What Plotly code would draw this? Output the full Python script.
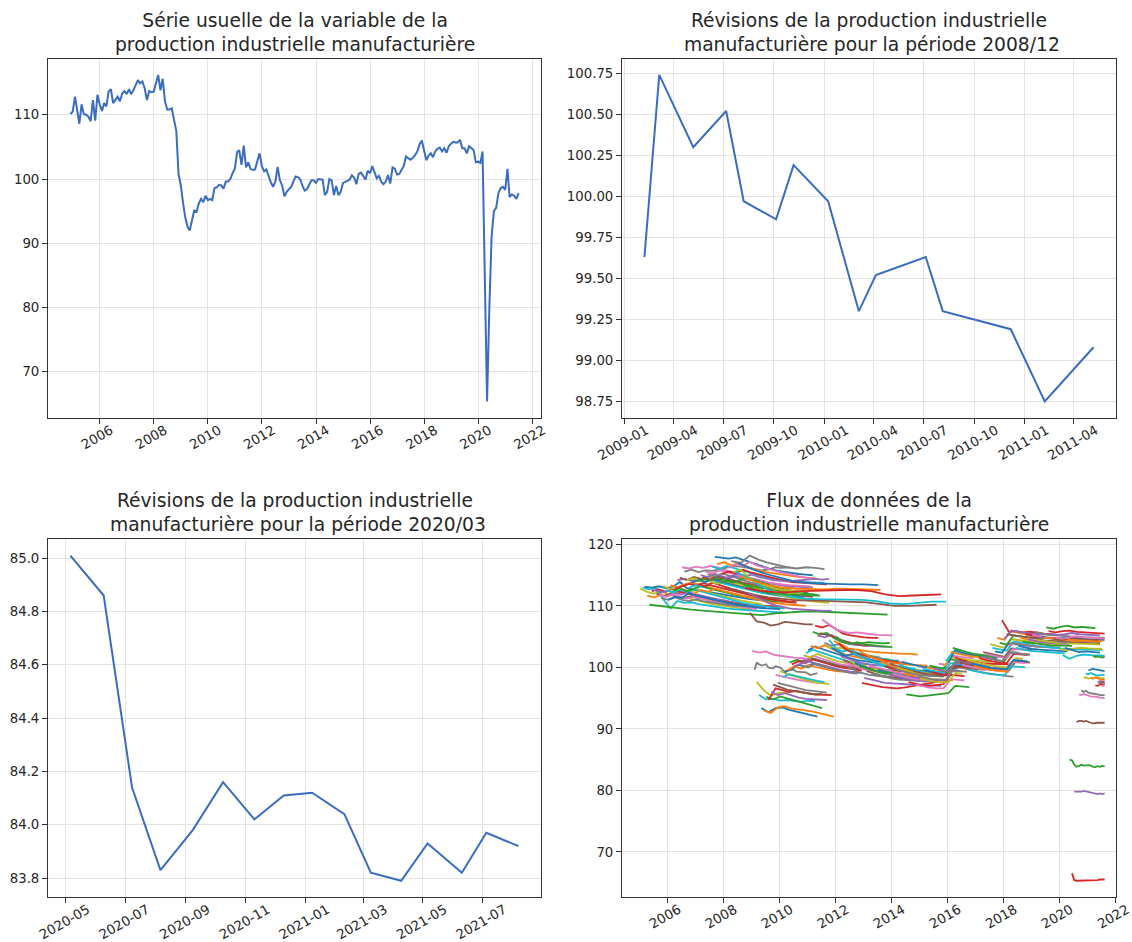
import pandas as pd
import plotly.graph_objects as go

# ---------------------------------------------------------------------------
# Données
# ---------------------------------------------------------------------------

# Série usuelle : indice mensuel (dates de fin de mois), de 2004-11 à 2021-06
SERIE_PREMIER_MOIS = "2004-11-30"
SERIE_VALEURS = [
    110.1, 110.5, 112.8, 110.5, 108.6, 111.6, 110.1, 110.0, 109.7, 109.0, 112.3, 109.1, 113.1,
    111.6, 110.6, 111.8, 111.3, 113.6, 114.0, 111.8, 112.3, 112.8, 112.1, 113.3, 113.7,
    113.2, 114.0, 113.2, 113.8, 114.6, 115.4, 114.9, 115.2, 114.1, 112.3, 113.7, 113.5,
    113.6, 114.9, 116.2, 113.8, 115.6, 112.1, 110.8, 110.8, 111.0, 109.2, 107.5, 100.8,
    99.0, 96.2, 94.1, 92.6, 92.0, 93.6, 95.1, 94.9, 96.2, 96.9, 96.4, 97.4,
    96.7, 96.9, 96.7, 98.6, 98.7, 99.1, 99.0, 98.5, 99.6, 99.6, 100.0, 100.9,
    101.6, 104.2, 104.5, 102.2, 105.2, 101.8, 102.6, 101.6, 101.4, 101.5, 103.0, 104.0,
    102.0, 101.2, 101.5, 100.3, 99.5, 98.8, 99.6, 101.9, 99.8, 99.0, 97.3, 98.0,
    98.5, 98.8, 99.6, 100.4, 100.3, 100.0, 99.0, 98.2, 98.4, 99.1, 99.8, 99.8,
    99.4, 100.0, 100.0, 99.9, 97.5, 98.0, 100.0, 99.8, 97.5, 98.9, 97.5, 98.0,
    99.4, 99.5, 99.7, 99.9, 100.6, 100.2, 99.2, 100.8, 101.0, 100.5, 99.9, 101.3,
    100.9, 102.0, 101.0, 100.1, 100.5, 99.6, 99.2, 99.6, 100.6, 99.3, 101.8, 101.6,
    100.7, 100.8, 101.4, 102.0, 103.5, 103.2, 103.0, 103.3, 103.7, 104.3, 105.4, 106.0,
    104.2, 102.9, 103.6, 104.0, 103.4, 104.3, 104.7, 104.9, 104.3, 104.8, 104.1, 105.1,
    105.5, 105.8, 105.7, 105.7, 106.1, 104.8, 104.8, 104.0, 105.1, 104.8, 104.5, 102.6,
    102.7, 102.5, 104.3, 84.5, 65.4, 80.0, 91.0, 95.0, 95.5, 97.8, 98.6, 98.8,
    98.3, 101.6, 97.2, 97.6, 97.4, 96.9, 97.8,
]

# Révisions successives de la période 2008/12
REV_2008_12_DATES = [
    "2009-02-07", "2009-03-06", "2009-05-07", "2009-07-06", "2009-08-07",
    "2009-10-05", "2009-11-06", "2010-01-08", "2010-03-05", "2010-04-05",
    "2010-07-05", "2010-08-05", "2010-12-07", "2011-02-07", "2011-05-07",
]
REV_2008_12_VALEURS = [
    99.63, 100.74, 100.30, 100.52, 99.97, 99.86, 100.19, 99.97,
    99.30, 99.52, 99.63, 99.30, 99.19, 98.75, 99.08,
]

# Révisions successives de la période 2020/03
REV_2020_03_DATES = [
    "2020-05-06", "2020-06-09", "2020-07-08", "2020-08-06", "2020-09-08",
    "2020-10-09", "2020-11-10", "2020-12-10", "2021-01-08", "2021-02-10",
    "2021-03-09", "2021-04-09", "2021-05-06", "2021-06-10", "2021-07-05",
    "2021-08-07",
]
REV_2020_03_VALEURS = [
    85.01, 84.86, 84.14, 83.83, 83.98, 84.16, 84.02, 84.11,
    84.12, 84.04, 83.82, 83.79, 83.93, 83.82, 83.97, 83.92,
]

# Flux de données : pour chaque période de référence, valeurs publiées
# dans les millésimes successifs (premier millésime deux mois après la période)
FLUX_VALEURS = {
    "2004-11": [112.8, 112.3, 112.0, 112.4, 111.9, 111.6, 111.5, 111.2, 110.9, 110.7, 110.4, 110.2, 110.0, 109.9, 109.7, 109.6, 109.5],
    "2004-12": [113.0, 112.7, 112.9, 111.0, 109.6, 110.8, 110.5, 110.6, 110.3, 110.1, 109.9, 109.7, 109.6, 109.5, 109.4, 109.3, 109.2, 109.1, 109.1, 109.0, 109.0],
    "2005-01": [113.1, 113.0, 113.2, 112.9, 113.1, 113.9, 112.9, 112.7, 112.4, 112.3, 112.0, 111.8, 111.6, 111.4, 111.3, 111.1, 111.0, 110.9, 110.8, 110.8, 110.7, 110.6],
    "2005-02": [111.7, 111.4, 111.8, 111.6, 112.0, 112.5, 112.2, 111.8, 111.5, 111.2, 110.9, 110.6, 110.4, 110.2, 110.0, 109.9, 109.8, 109.7],
    "2005-03": [110.2, 109.9, 109.6, 109.4, 109.2, 109.0, 108.8, 108.6, 108.5, 108.8, 109.0, 109.1, 109.1, 109.0, 109.0, 108.9, 108.8, 108.6],
    "2005-04": [112.4, 112.7, 112.3, 112.8, 112.3, 112.0, 111.8, 111.5, 111.3, 111.1, 110.8, 110.6, 110.4, 110.3, 110.2, 110.1, 110.0, 109.9, 109.9],
    "2005-05": [112.6, 112.2, 112.5, 112.1, 111.9, 112.2, 111.9, 111.6, 111.4, 111.1, 110.9, 110.6, 110.4, 110.2, 110.0, 109.9, 109.8],
    "2005-06": [112.0, 111.6, 112.0, 111.5, 111.3, 111.6, 111.3, 111.1, 110.9, 110.7, 110.5, 110.4, 110.3, 110.2],
    "2005-07": [111.8, 111.5, 111.9, 111.5, 111.2, 111.5, 111.2, 110.9, 110.7, 110.4, 110.2, 110.0, 109.8, 109.6, 109.5],
    "2005-08": [111.3, 111.0, 111.4, 111.0, 110.8, 111.1, 110.8, 110.6, 110.4, 110.3, 110.1, 110.0, 109.9, 109.8, 109.8],
    "2005-09": [113.2, 112.8, 113.1, 112.6, 112.4, 112.7, 112.3, 112.0, 111.7, 111.4, 111.1, 110.9, 110.7, 110.5, 110.3],
    "2005-10": [112.6, 112.2, 112.6, 112.3, 112.7, 112.4, 112.0, 111.7, 111.4, 111.1, 110.8, 110.5, 110.3, 110.1, 109.9, 109.8, 109.7, 109.6],
    "2005-11": [111.0, 111.5, 111.3, 112.1, 111.7, 111.5, 111.2, 110.9, 110.6, 110.4, 110.2, 110.0, 109.8, 109.7, 109.6, 109.5, 109.5],
    "2005-12": [113.4, 113.0, 113.5, 113.8, 113.5, 113.2, 112.9, 112.6, 112.3, 112.0, 111.7, 111.5, 111.3, 111.1, 110.9, 110.8, 110.7, 110.6, 110.5],
    "2006-01": [112.5, 112.9, 112.4, 112.8, 113.2, 112.9, 112.6, 112.3, 112.0, 111.8, 111.5, 111.3, 111.1, 110.9, 110.8, 110.7],
    "2006-02": [112.8, 113.2, 113.6, 113.3, 113.7, 113.4, 113.1, 112.8, 112.5, 112.2, 111.9, 111.6, 111.4, 111.2, 111.0, 110.8, 110.7, 110.6],
    "2006-03": [114.2, 114.4, 114.1, 114.3, 114.5, 114.2, 114.0, 113.7, 113.4, 113.1, 112.8, 112.5, 112.2, 112.0, 111.8, 111.6, 111.4, 111.3, 111.2, 111.1],
    "2006-04": [114.6, 114.2, 114.7, 114.4, 114.8, 114.5, 114.2, 113.9, 113.6, 113.3, 113.0, 112.7, 112.5, 112.3, 112.1, 111.9, 111.8, 111.7, 111.6, 111.5],
    "2006-05": [116.3, 116.1, 116.4, 116.2, 116.5, 116.3, 115.9, 115.5, 115.1, 114.8, 114.5, 114.2, 113.9, 113.6, 113.4, 113.2, 113.0],
    "2006-06": [115.6, 115.9, 115.5, 115.8, 115.7, 116.0, 116.2, 116.5, 116.4, 116.2, 116.1, 115.8, 115.9, 116.3, 116.2, 116.3],
    "2006-07": [114.2, 114.5, 114.1, 114.6, 114.9, 114.6, 114.3, 114.0, 113.7, 113.4, 113.1, 112.8, 112.6, 112.4, 112.2, 112.0, 111.9, 111.8],
    "2006-08": [113.0, 113.4, 113.1, 113.6, 113.9, 113.6, 113.3, 113.0, 112.8, 112.5, 112.2, 112.0, 111.8, 111.6, 111.4, 111.3, 111.2, 111.1, 111.0],
    "2006-09": [113.8, 114.2, 113.9, 114.4, 114.1, 113.8, 113.5, 113.2, 112.9, 112.6, 112.3, 112.1, 111.9, 111.7, 111.6, 111.5, 111.4],
    "2006-10": [112.0, 112.6, 112.3, 112.8, 112.5, 112.2, 111.9, 111.6, 111.3, 111.0, 110.8, 110.6, 110.4, 110.3, 110.2, 110.1, 110.0],
    "2006-11": [114.0, 114.4, 114.1, 114.6, 114.3, 114.0, 113.7, 113.4, 113.2, 113.0, 112.8, 112.6, 112.5, 112.4, 112.3, 112.3],
    "2006-12": [113.5, 113.2, 113.8, 113.4, 113.1, 112.7, 112.3, 112.0, 111.7, 111.4, 111.2, 111.0, 110.8, 110.7, 110.6],
    "2007-01": [115.0, 114.7, 115.2, 114.8, 114.5, 114.8, 114.5, 114.2, 114.0, 113.8, 113.6, 113.4, 113.3, 113.2, 113.1, 113.0, 113.0],
    "2007-02": [114.6, 114.3, 114.8, 114.5, 114.3, 114.0, 113.7, 113.5, 113.3, 113.1, 112.9, 112.7, 112.5, 112.3, 112.2, 112.1],
    "2007-03": [115.6, 115.3, 115.8, 115.5, 115.1, 114.8, 114.5, 114.2, 114.0, 113.8, 113.6, 113.5, 113.4, 113.3, 113.2, 113.2],
    "2007-04": [115.2, 114.8, 115.3, 115.0, 114.6, 114.2, 113.8, 113.5, 113.2, 112.9, 112.7, 112.5, 112.4, 112.3],
    "2007-05": [114.0, 113.6, 114.1, 113.8, 113.5, 113.2, 112.9, 112.6, 112.3, 112.0, 111.7, 111.4, 111.2, 111.0, 110.8, 110.7, 110.6, 110.5],
    "2007-06": [116.4, 116.0, 116.5, 116.2, 115.8, 115.5, 115.1, 114.8, 114.6, 114.4, 114.2, 114.1, 114.0, 113.9, 113.9, 113.8, 113.8],
    "2007-07": [118.0, 117.8, 117.7, 117.9, 117.5, 117.2, 116.8, 116.3, 116.0, 115.7, 115.5, 115.3, 115.2, 115.1, 115.0],
    "2007-08": [116.8, 117.1, 116.6, 116.9, 116.5, 116.1, 115.8, 115.5, 115.3, 115.1, 114.9, 114.8, 114.7, 114.6, 114.5],
    "2007-09": [113.8, 114.1, 113.8, 114.3, 114.6, 114.2, 113.8, 113.4, 113.1, 112.8, 112.5, 112.3, 112.1, 111.9, 111.8],
    "2007-10": [115.2, 115.6, 115.3, 115.9, 115.5, 115.2, 114.9, 114.6, 114.3, 114.1, 113.9, 113.8, 113.7, 113.6, 113.5, 113.5],
    "2007-11": [114.5, 114.8, 115.2, 114.9, 115.1, 114.7, 114.4, 114.2, 114.1, 114.0, 114.1, 114.2, 114.3, 114.4, 114.3, 114.4],
    "2007-12": [113.0, 112.4, 111.8, 111.4, 111.1, 110.9, 110.9, 110.8, 110.8, 110.7, 110.6, 110.3, 110.0, 110.0, 110.1, 110.2],
    "2008-01": [116.2, 116.8, 116.5, 117.2, 116.6, 116.2, 115.9, 115.6, 115.3, 115.0, 114.8, 114.6, 114.5],
    "2008-02": [117.3, 117.0, 118.2, 117.5, 117.0, 116.6, 116.3, 116.1, 116.3, 116.2, 116.0],
    "2008-03": [115.5, 115.9, 114.8, 114.0, 113.5, 113.1, 112.8, 112.6, 112.5, 112.4, 112.3],
    "2008-04": [115.6, 114.4, 113.0, 112.0, 111.5, 111.2, 111.1, 111.1, 111.0, 111.0, 110.8, 110.4, 110.3, 110.5, 110.7, 110.7],
    "2008-05": [117.0, 116.0, 115.2, 114.6, 114.0, 113.7, 113.6, 113.6, 113.5, 113.5, 113.4],
    "2008-06": [114.8, 114.0, 113.4, 113.0, 112.8, 112.7, 112.7, 112.8, 112.8, 112.7, 112.6],
    "2008-07": [113.5, 113.0, 112.6, 112.3, 112.1, 112.0, 111.9, 111.9, 111.8, 111.8, 111.7, 111.7],
    "2008-08": [112.9, 112.5, 112.3, 112.2, 112.4, 112.5, 112.5, 112.6, 112.6, 112.4, 111.9, 111.6, 111.7, 111.8, 111.9],
    "2008-09": [112.2, 111.6, 111.0, 110.5, 110.1, 109.8, 109.6, 109.5, 109.4, 109.3, 109.3, 109.2, 109.2],
    "2008-10": [108.9, 107.5, 107.3, 106.8, 107.0, 107.4, 107.3, 107.1, 107.0, 107.0],
    "2008-11": [102.7, 102.4, 102.6, 102.1, 101.9, 101.7, 101.6, 101.5, 101.4],
    "2008-12": REV_2008_12_VALEURS,
    "2009-01": [97.6, 96.3, 95.4, 95.8, 95.9, 96.2, 96.0, 95.8, 95.7, 95.6],
    "2009-02": [95.5, 94.8, 94.9, 94.6, 94.7, 94.5, 94.4, 94.6, 94.5],
    "2009-03": [93.4, 92.7, 93.4, 93.5, 93.1, 92.8, 92.5, 92.2, 92.0],
    "2009-04": [93.0, 92.6, 93.5, 93.7, 93.3, 93.2, 93.0, 92.8, 92.5, 92.3, 92.0],
    "2009-05": [95.2, 94.8, 95.3, 95.0, 94.6, 94.3, 94.0, 93.7, 93.4],
    "2009-06": [94.7, 96.6, 96.3, 96.0, 96.2, 95.9, 95.7, 95.6, 95.5, 95.5],
    "2009-07": [96.0, 95.5, 95.8, 95.4, 95.1, 94.9, 94.8, 94.7, 94.7],
    "2009-08": [97.2, 96.8, 96.4, 96.2, 96.0, 95.8, 95.6, 95.7],
    "2009-09": [98.8, 98.5, 98.3, 98.0, 97.8, 97.6, 97.5, 97.4],
    "2009-10": [97.5, 97.2, 96.8, 96.5, 96.3, 96.2, 96.0, 95.9],
    "2009-11": [99.4, 98.9, 98.6, 98.2, 97.9, 97.6, 97.4, 97.3],
    "2009-12": [98.4, 98.9, 98.6, 98.3, 98.0, 97.8, 97.6],
    "2010-01": [99.2, 99.8, 100.4, 100.1, 100.6, 100.3, 100.0, 99.7, 99.5, 99.3, 99.2, 99.1],
    "2010-02": [99.5, 100.2, 99.8, 100.4, 100.1, 99.8, 99.6, 99.4, 99.3, 99.2, 99.1],
    "2010-03": [100.8, 101.2, 100.9, 101.5, 101.2, 100.9, 100.6, 100.4, 100.2, 100.1],
    "2010-04": [100.5, 101.0, 100.7, 101.3, 101.0, 100.6, 100.3, 100.0, 99.8, 99.6, 99.5],
    "2010-05": [100.2, 100.6, 101.0, 100.7, 100.4, 100.0, 99.7, 99.5, 99.3, 99.2],
    "2010-06": [101.2, 101.0, 101.6, 101.3, 100.9, 100.5, 100.3, 100.1, 99.9, 99.8],
    "2010-07": [101.6, 101.3, 101.9, 101.5, 101.1, 100.8, 100.5, 100.3, 100.1, 100.0],
    "2010-08": [100.3, 100.0, 100.6, 100.2, 99.9, 99.6, 99.3, 99.1, 99.0],
    "2010-09": [102.0, 101.6, 102.2, 101.7, 101.3, 101.0, 100.7, 100.5, 100.4, 100.3],
    "2010-10": [102.3, 102.9, 102.5, 102.1, 101.7, 101.3, 101.0, 100.8, 100.6, 100.5, 100.4],
    "2010-11": [102.8, 103.4, 103.0, 102.6, 102.2, 101.8, 101.5, 101.2, 101.0, 100.8, 100.7],
    "2010-12": [103.5, 103.1, 103.6, 103.0, 102.5, 102.1, 101.8, 101.5, 101.3, 101.2, 101.1, 101.0],
    "2011-01": [105.8, 105.4, 105.6, 104.8, 104.2, 103.9, 103.8, 104.0, 104.1, 104.0, 103.9, 104.0],
    "2011-02": [106.8, 106.5, 106.9, 106.2, 105.5, 105.2, 105.0, 104.9, 104.8, 104.8],
    "2011-03": [105.2, 104.9, 105.3, 104.6, 104.0, 103.7, 103.6, 103.5, 103.5, 103.4, 103.4],
    "2011-04": [105.6, 105.3, 105.0, 104.5, 104.1, 103.8, 103.6, 103.5],
    "2011-05": [107.8, 107.0, 106.2, 105.8, 105.6, 105.7, 105.5, 105.4, 105.3, 105.3, 105.2],
    "2011-06": [104.0, 103.5, 103.8, 103.1, 102.6, 102.2, 102.0, 101.8, 101.6],
    "2011-07": [103.5, 103.0, 103.2, 102.7, 102.3, 102.0, 101.7, 101.5, 101.4, 101.3],
    "2011-08": [104.5, 103.0, 102.6, 102.9, 102.4, 102.0, 101.7, 101.5, 101.3, 101.2, 101.1],
    "2011-09": [103.2, 102.5, 101.9, 102.2, 101.8, 101.4, 101.1, 100.9, 100.8, 100.7, 100.6, 100.5],
    "2011-10": [104.3, 103.8, 103.1, 102.9, 102.8, 102.6, 102.5, 102.4, 102.4, 102.3, 102.2, 102.2, 102.1],
    "2011-11": [105.0, 104.2, 103.8, 104.1, 103.8, 103.6, 103.5, 103.4, 103.3],
    "2011-12": [103.9, 103.0, 102.4, 102.1, 101.8, 101.6, 101.3, 101.1, 100.9, 100.8],
    "2012-01": [101.8, 101.4, 101.0, 100.7, 100.5, 100.4, 100.2, 100.1, 100.0],
    "2012-02": [101.2, 100.8, 100.4, 100.1, 99.9, 99.7, 99.6, 99.5, 99.4, 99.4],
    "2012-03": [100.8, 100.3, 99.9, 99.6, 99.4, 99.3, 99.2, 99.0, 98.9, 98.8],
    "2012-04": [100.0, 99.5, 99.1, 98.8, 98.6, 98.5, 98.4, 98.3],
    "2012-05": [101.0, 100.4, 100.0, 99.7, 99.4, 99.2, 99.1, 99.0, 98.9],
    "2012-06": [102.4, 101.8, 101.3, 100.9, 100.5, 100.2, 100.0, 99.9, 99.8, 99.8],
    "2012-07": [100.7, 100.2, 99.8, 99.5, 99.3, 99.1, 99.0, 98.9, 98.8],
    "2012-08": [103.0, 102.2, 101.7, 101.3, 101.0, 100.8, 100.6, 100.5, 100.4, 100.4, 100.3],
    "2012-09": [100.2, 99.8, 99.4, 99.1, 98.9, 98.7, 98.6, 98.5, 98.4],
    "2012-10": [97.5, 97.2, 97.0, 96.8, 96.7, 96.6, 96.7, 96.9, 97.2, 97.4, 97.6, 97.8, 97.9],
    "2012-11": [98.3, 98.0, 97.7, 97.5, 97.4, 97.3, 97.2, 97.2, 97.1, 97.1, 97.0, 97.0],
    "2012-12": [99.4, 99.0, 98.7, 98.5, 98.3, 98.2, 98.1, 98.0],
    "2013-01": [100.3, 100.0, 99.7, 99.4, 99.2, 99.0, 98.9, 98.8, 98.7],
    "2013-02": [99.0, 98.7, 98.4, 98.2, 98.0, 97.9, 97.8, 97.7, 97.7],
    "2013-03": [99.8, 99.5, 99.2, 98.9, 98.7, 98.6, 98.5, 98.4],
    "2013-04": [100.6, 100.2, 99.9, 99.7, 99.6, 99.5, 99.4, 99.3],
    "2013-05": [99.6, 99.3, 99.0, 98.8, 98.6, 98.5, 98.4, 98.3],
    "2013-06": [100.9, 100.5, 100.0, 99.7, 99.5, 99.3, 99.2, 99.1, 99.0],
    "2013-07": [99.3, 99.0, 98.7, 98.5, 98.3, 98.2, 98.0, 97.9],
    "2013-08": [100.2, 99.8, 99.5, 99.3, 99.1, 99.0, 98.9, 98.9],
    "2013-09": [98.9, 98.6, 98.3, 98.1, 97.9, 97.8, 97.8, 97.7],
    "2013-10": [100.6, 100.2, 99.9, 99.6, 99.5, 99.4, 99.3, 99.3, 99.2],
    "2013-11": [99.0, 98.7, 98.4, 98.2, 98.0, 97.9, 97.8, 97.8, 97.7],
    "2013-12": [99.8, 99.4, 99.1, 98.9, 98.7, 98.6, 98.6, 98.5],
    "2014-01": [100.0, 99.6, 99.3, 99.1, 99.0, 98.9, 98.8, 98.8],
    "2014-02": [100.4, 100.0, 99.7, 99.4, 99.3, 99.2, 99.1, 99.1],
    "2014-03": [100.9, 100.6, 100.3, 100.1, 100.0, 99.9, 99.9, 99.8, 99.8],
    "2014-04": [99.0, 98.7, 98.4, 98.2, 98.1, 98.0, 97.9, 97.9],
    "2014-05": [95.6, 95.4, 95.3, 95.4, 95.5, 95.6, 95.8, 97.0, 96.9, 96.8],
    "2014-06": [97.6, 97.3, 97.1, 97.0, 97.1, 97.3, 98.8, 98.7, 98.6],
    "2014-07": [98.5, 98.2, 98.0, 97.9, 97.9, 98.0, 99.5, 99.4],
    "2014-08": [99.4, 99.1, 98.9, 98.8, 98.7, 98.7, 100.2, 100.1],
    "2014-09": [97.2, 96.9, 96.7, 96.6, 96.6, 98.1, 98.0, 97.9],
    "2014-10": [98.6, 98.3, 98.1, 98.0, 98.0, 99.5, 99.4, 99.3],
    "2014-11": [98.2, 97.9, 97.7, 97.6, 97.6, 99.1, 99.0],
    "2014-12": [99.8, 99.5, 99.3, 99.2, 100.7, 100.6, 100.5, 100.4],
    "2015-01": [99.5, 99.2, 99.0, 98.8, 100.4, 100.3, 100.2, 100.1],
    "2015-02": [100.0, 99.7, 99.5, 99.4, 100.9, 100.8, 100.7],
    "2015-03": [100.3, 100.0, 99.8, 101.3, 101.1, 101.0, 100.9, 100.8],
    "2015-04": [99.2, 98.9, 98.7, 100.2, 100.1, 100.0, 99.9],
    "2015-05": [99.8, 99.5, 99.3, 100.9, 100.8, 100.6, 100.5, 100.4],
    "2015-06": [98.8, 98.6, 100.1, 100.0, 99.9, 99.8, 99.7, 99.6],
    "2015-07": [100.6, 100.4, 101.9, 101.7, 101.6, 101.5],
    "2015-08": [99.5, 99.3, 100.8, 100.6, 100.5, 100.4, 100.3, 100.2],
    "2015-09": [100.2, 101.6, 101.5, 101.3, 101.2, 101.1, 101.0, 100.9],
    "2015-10": [101.0, 102.5, 102.3, 102.1, 102.0, 101.9],
    "2015-11": [100.8, 102.8, 102.4, 102.1, 101.9, 101.7, 101.6, 101.5],
    "2015-12": [102.5, 102.2, 102.0, 101.8, 101.7, 101.6, 101.5],
    "2016-01": [103.2, 102.8, 102.5, 102.2, 102.0, 101.9, 101.8, 101.7],
    "2016-02": [101.6, 101.2, 101.0, 100.8, 100.7, 100.6, 100.6, 100.5, 100.5],
    "2016-03": [101.0, 100.7, 100.4, 100.2, 100.0, 99.9, 99.8, 99.8],
    "2016-04": [100.8, 100.5, 100.2, 100.0, 99.8, 99.7, 99.6, 99.5, 101.0, 100.9, 100.8],
    "2016-05": [100.4, 100.1, 99.9, 99.7, 99.6, 99.5, 99.4, 100.9, 100.8, 100.7],
    "2016-06": [99.8, 99.5, 99.3, 99.1, 98.9, 98.8, 98.6, 98.5],
    "2016-07": [101.2, 100.9, 100.6, 100.4, 100.2, 100.1, 100.0, 101.5, 101.4],
    "2016-08": [99.6, 99.3, 99.1, 98.9, 98.8, 98.7, 100.2, 100.1, 100.0],
    "2016-09": [100.6, 100.3, 100.1, 99.9, 99.8, 99.7, 101.2, 101.1, 101.0],
    "2016-10": [100.2, 99.9, 99.7, 99.5, 99.4, 99.3],
    "2016-11": [102.0, 101.7, 101.4, 101.2, 101.0, 102.5, 102.4],
    "2016-12": [101.5, 101.2, 101.0, 100.8, 100.7, 102.2, 102.1, 102.0],
    "2017-01": [101.8, 101.5, 101.2, 101.0, 102.5, 102.3, 102.2, 102.1],
    "2017-02": [102.5, 102.2, 101.9, 101.7, 103.1, 103.0, 102.9, 102.8],
    "2017-03": [102.2, 101.9, 101.7, 101.5, 103.0, 102.9, 102.8],
    "2017-04": [101.5, 101.2, 101.0, 102.4, 102.3, 102.2, 102.1],
    "2017-05": [103.8, 103.5, 103.2, 104.6, 104.4, 104.3, 104.2],
    "2017-06": [103.2, 102.9, 102.7, 104.2, 104.0, 103.9, 103.8],
    "2017-07": [102.6, 102.4, 103.9, 103.7, 103.6, 103.5, 103.4, 103.3],
    "2017-08": [104.8, 104.5, 105.9, 105.6, 105.4, 105.2, 105.1],
    "2017-09": [104.0, 103.7, 105.2, 105.0, 104.9, 104.8, 104.7],
    "2017-10": [107.7, 105.8, 105.9, 105.7, 105.8, 105.6, 105.5, 105.4],
    "2017-11": [104.6, 106.0, 105.8, 105.6, 105.5, 105.4, 105.3, 105.3],
    "2017-12": [105.4, 105.2, 105.0, 104.9, 104.9, 104.8, 104.8, 104.7],
    "2018-01": [103.6, 103.9, 103.7, 103.5, 103.4, 103.3, 103.2, 103.2],
    "2018-02": [104.0, 103.8, 103.6, 103.5, 103.4, 103.3, 103.3, 103.2],
    "2018-03": [104.6, 104.3, 104.1, 104.0, 103.9, 103.8, 103.7, 103.7],
    "2018-04": [103.2, 102.9, 102.7, 102.6, 102.5, 102.4, 102.4, 102.3],
    "2018-05": [103.5, 103.2, 103.0, 102.9, 102.8, 102.7, 102.7, 102.6],
    "2018-06": [104.8, 104.5, 104.3, 104.2, 104.1, 104.0, 104.0, 104.0],
    "2018-07": [104.2, 104.0, 103.8, 103.7, 103.6, 103.6, 103.5, 103.5],
    "2018-08": [105.4, 105.2, 105.0, 104.9, 104.8, 104.8, 104.7, 104.7],
    "2018-09": [104.6, 104.3, 104.1, 104.0, 103.9, 103.8, 103.8],
    "2018-10": [104.9, 104.6, 104.4, 104.3, 104.2, 104.1, 104.1, 104.0, 104.0, 103.9, 103.9],
    "2018-11": [105.3, 105.0, 104.8, 104.7, 104.6, 104.5, 104.5, 104.4, 104.4, 104.3, 104.3],
    "2018-12": [105.8, 105.5, 105.3, 105.2, 105.1, 105.0, 105.0, 104.9, 104.9, 104.8, 104.8],
    "2019-01": [104.5, 104.3, 104.1, 104.0, 103.9, 103.9, 103.8, 103.8, 103.8, 103.7],
    "2019-02": [103.5, 103.3, 103.2, 103.1, 103.0, 103.0, 102.9, 102.9, 102.8, 102.8],
    "2019-03": [105.0, 104.8, 104.6, 104.8, 104.9, 104.7, 104.6, 104.6, 104.5, 104.5],
    "2019-04": [104.9, 104.7, 104.5, 104.4, 104.5, 104.3, 104.4, 104.3, 104.2],
    "2019-05": [106.5, 106.3, 106.6, 106.8, 106.5, 106.6, 106.5, 106.4],
    "2019-06": [105.9, 105.7, 105.9, 106.0, 105.8, 105.7, 105.6, 105.6, 105.5],
    "2019-07": [105.5, 105.3, 105.4, 105.6, 105.4, 105.3, 105.2, 105.2],
    "2019-08": [104.6, 104.4, 104.6, 104.8, 104.6, 104.5, 104.5, 104.4],
    "2019-09": [104.9, 104.7, 104.9, 105.1, 104.9, 104.8, 104.8, 104.7],
    "2019-10": [104.2, 104.0, 104.3, 104.4, 104.3, 104.2, 104.1],
    "2019-11": [103.0, 102.8, 103.1, 103.2, 103.1, 103.0, 103.0],
    "2019-12": [102.0, 101.4, 101.9, 102.1, 102.0, 101.9, 101.9],
    "2020-01": [103.2, 102.8, 102.5, 102.6, 102.5, 102.4],
    "2020-02": [104.6, 104.2, 104.4, 104.3, 104.2, 104.3],
    "2020-03": REV_2020_03_VALEURS,
    "2020-04": [66.5, 65.4, 65.3, 65.3, 65.3, 65.3, 65.3, 65.3, 65.4, 65.3, 65.4, 65.4, 65.5, 65.5, 65.5],
    "2020-05": [79.8, 79.8, 79.7, 79.8, 79.9, 79.8, 79.7, 79.6, 79.5, 79.4, 79.4, 79.5, 79.4, 79.5],
    "2020-06": [91.1, 91.3, 91.3, 91.2, 91.3, 91.1, 91.0, 90.9, 91.0, 91.0, 91.0, 91.0, 91.0],
    "2020-07": [95.6, 95.5, 95.7, 95.5, 95.4, 95.3, 95.3, 95.2, 95.2, 95.1, 95.0, 95.0],
    "2020-08": [96.3, 96.0, 96.2, 95.9, 95.8, 95.7, 95.6, 95.6, 95.5, 95.5, 95.5],
    "2020-09": [98.3, 98.4, 98.2, 98.3, 98.2, 98.3, 98.4, 98.3, 98.2, 98.2],
    "2020-10": [99.0, 98.9, 99.1, 98.9, 98.8, 98.7, 98.7, 98.7, 98.8],
    "2020-11": [99.5, 99.6, 99.8, 99.7, 99.6, 99.5, 99.5, 99.4],
    "2020-12": [98.3, 98.2, 98.4, 98.2, 98.1, 98.0, 98.0],
    "2021-01": [101.9, 101.7, 101.8, 101.7, 101.6, 101.7],
    "2021-02": [97.1, 97.0, 97.3, 97.2, 97.3],
    "2021-03": [97.5, 97.8, 97.6, 97.7],
    "2021-04": [97.4, 97.6, 97.5],
    "2021-05": [96.9, 97.2],
}

# Écart (en mois) entre deux millésimes retenus ; 3 mois par défaut
FLUX_PAS_MOIS = {
    "2005-03": 6, "2007-12": 6, "2008-02": 4, "2008-04": 6, "2008-05": 6,
    "2008-06": 6, "2008-08": 6,
    "2020-04": 1, "2020-05": 1, "2020-06": 1, "2020-07": 1, "2020-08": 1,
    "2020-09": 1, "2020-10": 1, "2020-11": 1, "2020-12": 1, "2021-01": 1,
    "2021-02": 1, "2021-03": 1, "2021-04": 1, "2021-05": 1,
}

# Périodes dont les dates de publication sont connues précisément
FLUX_DATES_CONNUES = {"2008-12": REV_2008_12_DATES, "2020-03": REV_2020_03_DATES}

TITRES = [
    "Série usuelle de la variable de la<br>production industrielle manufacturière",
    "Révisions de la production industrielle<br> manufacturière pour la période 2008/12",
    "Révisions de la production industrielle<br> manufacturière pour la période 2020/03",
    "Flux de données de la<br>production industrielle manufacturière",
]

TICKS_ANNEES = ["2006", "2008", "2010", "2012", "2014", "2016", "2018", "2020", "2022"]
TICKS_2008_12 = ["2009-01", "2009-04", "2009-07", "2009-10", "2010-01",
                 "2010-04", "2010-07", "2010-10", "2011-01", "2011-04"]
TICKS_2020_03 = ["2020-05", "2020-07", "2020-09", "2020-11",
                 "2021-01", "2021-03", "2021-05", "2021-07"]
Y_TICKS_SERIE = [70, 80, 90, 100, 110]
Y_TICKS_2008_12 = [98.75, 99.0, 99.25, 99.5, 99.75, 100.0, 100.25, 100.5, 100.75]
Y_TICKS_2020_03 = [83.8, 84.0, 84.2, 84.4, 84.6, 84.8, 85.0]
Y_TICKS_FLUX = [70, 80, 90, 100, 110, 120]

# ---------------------------------------------------------------------------
# Mise en forme
# ---------------------------------------------------------------------------
LARGEUR, HAUTEUR = 1132, 942
POLICE = "DejaVu Sans"
TEXTE = "#262626"
AXE = "#333333"
GRILLE = "#e3e3e3"
BLEU = "#3a6cc0"
TAB10 = ["#1f77b4", "#ff7f0e", "#2ca02c", "#d62728", "#9467bd",
         "#8c564b", "#e377c2", "#7f7f7f", "#bcbd22", "#17becf"]

# cadres des quatre graphiques, en pixels (gauche, droite) / (haut, bas)
COLONNES = [(48, 541), (622, 1116)]
LIGNES = [(58.6, 417.7), (539.3, 897.0)]


def dom_x(c):
    g, d = COLONNES[c]
    return [g / LARGEUR, d / LARGEUR]


def dom_y(r):
    h, b = LIGNES[r]
    return [1 - b / HAUTEUR, 1 - h / HAUTEUR]


def marge(valeurs, f=0.05):
    lo, hi = min(valeurs), max(valeurs)
    e = hi - lo
    return [lo - f * e, hi + f * e]


def marge_dates(dates, f=0.05):
    d = pd.to_datetime(pd.Series(list(dates)))
    lo, hi = d.min(), d.max()
    e = hi - lo
    return [str(lo - e * f), str(hi + e * f)]


def couleur_periode(p):
    a, m = int(p[:4]), int(p[5:7])
    return TAB10[((a * 12 + m) - (2005 * 12 + 1)) % 10]


def dates_flux(p, n):
    if p in FLUX_DATES_CONNUES:
        return list(pd.to_datetime(FLUX_DATES_CONNUES[p]))
    pas = FLUX_PAS_MOIS.get(p, 3)
    base = pd.Timestamp(p + "-07")
    return [base + pd.DateOffset(months=2 + k * pas) for k in range(n)]


fig = go.Figure()

# 1. série usuelle
dates_serie = pd.date_range(SERIE_PREMIER_MOIS, periods=len(SERIE_VALEURS), freq="ME")
fig.add_trace(go.Scatter(x=dates_serie, y=SERIE_VALEURS, mode="lines",
                         line=dict(color=BLEU, width=2), xaxis="x", yaxis="y"))

# 2. révisions 2008/12
fig.add_trace(go.Scatter(x=pd.to_datetime(REV_2008_12_DATES), y=REV_2008_12_VALEURS,
                         mode="lines", line=dict(color=BLEU, width=2),
                         xaxis="x2", yaxis="y2"))

# 3. révisions 2020/03
fig.add_trace(go.Scatter(x=pd.to_datetime(REV_2020_03_DATES), y=REV_2020_03_VALEURS,
                         mode="lines", line=dict(color=BLEU, width=2),
                         xaxis="x3", yaxis="y3"))

# 4. flux de données
toutes_valeurs = []
for periode in sorted(FLUX_VALEURS):
    vals = FLUX_VALEURS[periode]
    toutes_valeurs.extend(vals)
    fig.add_trace(go.Scatter(x=dates_flux(periode, len(vals)), y=vals, mode="lines",
                             line=dict(color=couleur_periode(periode), width=1.8),
                             xaxis="x4", yaxis="y4"))

police_ticks = dict(family=POLICE, size=13.3, color=TEXTE)
commun = dict(showline=True, linecolor=AXE, linewidth=1, mirror=True,
              ticks="outside", ticklen=5, tickwidth=1, tickcolor=AXE,
              showgrid=True, gridcolor=GRILLE, gridwidth=1, zeroline=False,
              automargin=False, tickfont=police_ticks)


def axe_x(c, rng, vals, textes, decalage, ancre):
    return dict(commun, domain=dom_x(c), anchor=ancre, range=rng, type="date",
                tickmode="array", tickvals=vals, ticktext=textes,
                tickangle=-30, ticklabelshift=decalage, ticklabelstandoff=-6,
                ticklabeloverflow="allow")


def axe_y(r, rng, vals, fmt, ancre):
    return dict(commun, domain=dom_y(r), anchor=ancre, range=rng,
                tickmode="array", tickvals=vals, tickformat=fmt)


ans_vals = [a + "-01-01" for a in TICKS_ANNEES]
fig.update_layout(
    xaxis=axe_x(0, marge_dates(dates_serie), ans_vals, TICKS_ANNEES, 11, "y"),
    yaxis=axe_y(0, marge(SERIE_VALEURS), Y_TICKS_SERIE, "d", "x"),
    xaxis2=axe_x(1, marge_dates(REV_2008_12_DATES),
                 [t + "-01" for t in TICKS_2008_12], TICKS_2008_12, 22, "y2"),
    yaxis2=axe_y(0, marge(REV_2008_12_VALEURS), Y_TICKS_2008_12, ".2f", "x2"),
    xaxis3=axe_x(0, marge_dates(REV_2020_03_DATES),
                 [t + "-01" for t in TICKS_2020_03], TICKS_2020_03, 22, "y3"),
    yaxis3=axe_y(1, marge(REV_2020_03_VALEURS), Y_TICKS_2020_03, ".1f", "x3"),
    xaxis4=axe_x(1, ["2004-05-15", "2022-01-02"], ans_vals, TICKS_ANNEES, 11, "y4"),
    yaxis4=axe_y(1, marge(toutes_valeurs), Y_TICKS_FLUX, "d", "x4"),
)

# titres des graphiques
for i, titre in enumerate(TITRES):
    c, r = i % 2, i // 2
    dx = dom_x(c)
    fig.add_annotation(text=titre, x=(dx[0] + dx[1]) / 2, y=dom_y(r)[1],
                       xref="paper", yref="paper", xanchor="center", yanchor="bottom",
                       yshift=2, showarrow=False, align="center",
                       font=dict(family=POLICE, size=18.7, color=TEXTE))

fig.update_layout(width=LARGEUR, height=HAUTEUR, showlegend=False,
                  margin=dict(l=0, r=0, t=0, b=0),
                  paper_bgcolor="white", plot_bgcolor="white",
                  font=dict(family=POLICE, color=TEXTE))

fig.write_html("out.html")
